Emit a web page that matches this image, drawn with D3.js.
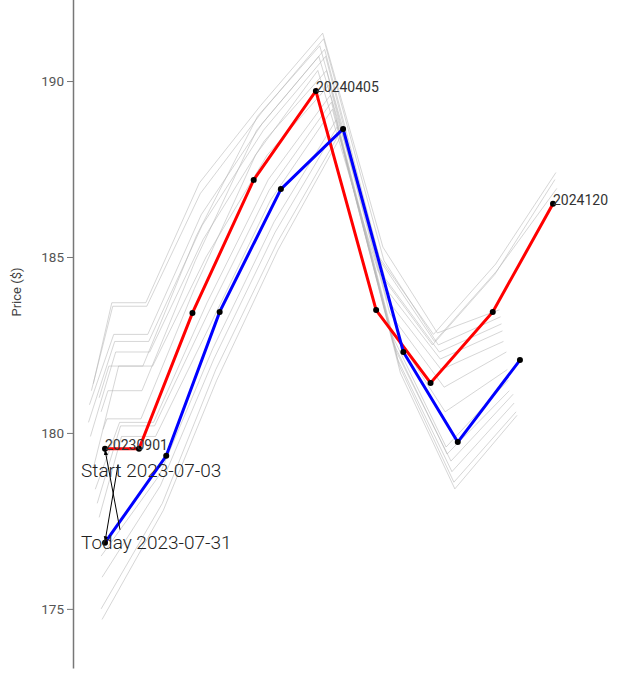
<!DOCTYPE html>
<html><head><meta charset="utf-8">
<script src="https://cdn.jsdelivr.net/npm/d3@7"></script>
<style>
html,body{margin:0;padding:0;background:#fff;}
svg{display:block;font-family:Roboto,"Open Sans",sans-serif;}
</style></head>
<body>
<script>
// contract offsets in days from 2023-09-01 (first contract)
const contractDays = [0, 35, 90, 153, 217, 279, 335, 399, 461];
const contractLabels = ["20230901", "", "", "", "20240405", "", "", "", "20241204"];
const yTicks = [175, 180, 185, 190];

// Start curve (2023-07-03)
const startLabel = "Start 2023-07-03";
const startShift = 0;
const startPrices = [179.55, 179.55, 183.41, 187.19, 189.72, 183.49, 181.42, 183.44, 186.51];

// Today curve (2023-07-31)
const todayLabel = "Today 2023-07-31";
const todayShift = 28;
const todaySpotDay = 0;
const todaySpot = 176.88;
const todayPrices = [null, 179.35, 183.44, 186.93, 188.64, 182.30, 179.74, 182.07, null];

// intermediate days: shift (days), spot day, spot price, contract prices
const histShift = [2, 3, 4, 7, 8, 9, 10, 11, 14, 15, 16, 17, 21, 22, 24, 25];
const histSpotDay = [-2, -4, -6, -12, -14, -16, -17, -15, -12, -10, -8, -6, -4, -3, -4, -3];
const histSpot = [180.1, 180.6, 181.0, 181.4, 181.2, 180.8, 180.3, 179.9, 179.0, 178.4, 178.0, 177.6, 176.5, 175.9, 175.0, 174.7];
const histPrices = [
  [180.4, 180.4, 184.1, 187.9, 190.3, 184.6, 182.5, 184.5, 187.2],
  [181.2, 181.2, 184.9, 188.6, 190.7, 185.0, 182.8, 184.8, 187.4],
  [181.9, 181.9, 185.6, 189.0, 191.0, 184.9, 182.6, 184.6, 186.95],
  [183.7, 183.7, 187.1, 189.3, 191.36, 185.28, 182.84, 183.5, null],
  [183.6, 183.6, 186.8, 189.1, 191.2, 184.9, 182.5, 183.3, null],
  [182.8, 182.8, 186.2, 188.8, 190.9, 184.4, 182.3, 183.1, null],
  [182.6, 182.6, 185.9, 188.6, 190.7, 184.1, 182.1, 182.9, null],
  [182.3, 182.3, 185.5, 188.3, 190.3, 183.8, 181.8, 182.6, null],
  [181.9, 181.9, 185.0, 187.9, 189.9, 183.4, 181.3, 182.3, null],
  [180.3, 180.3, 183.7, 187.2, 189.6, 183.0, 180.6, 181.8, null],
  [180.2, 180.2, 183.4, 186.9, 189.4, 182.8, 179.6, 181.5, null],
  [179.9, 179.9, 183.0, 186.6, 189.2, 182.6, 179.4, 181.2, null],
  [null, 178.8, 182.4, 186.0, 188.9, 182.3, 179.2, 181.1, null],
  [null, 178.5, 182.1, 185.7, 188.7, 182.1, 178.9, 180.85, null],
  [null, 178.0, 181.8, 185.4, 188.5, 181.9, 178.6, 180.6, null],
  [null, 177.8, 181.5, 185.2, 188.4, 181.7, 178.41, 180.5, null]
];

const W = 608, H = 677;
const margin = {left: 73, top: -84};
const innerH = 752;

const svg = d3.select("body").append("svg").attr("width", W).attr("height", H);

const x = d3.scaleLinear().domain([0, 461]).range([32, 480]);
const y = d3.scaleLinear().domain([173.32, 194.69]).range([innerH, 0]);

svg.append("text").attr("x", 340).attr("y", -4).attr("text-anchor", "middle")
  .attr("font-size", 16).attr("fill", "#333").text("Futures Term Structure (Today vs Start)");

const g = svg.append("g").attr("transform", `translate(${margin.left},${margin.top})`);

const yAxis = g.append("g").call(d3.axisLeft(y).tickValues(yTicks).tickSize(6).tickSizeOuter(0));
yAxis.select(".domain").attr("stroke", "#777").attr("stroke-width", 1.5);
yAxis.selectAll(".tick line").attr("stroke", "#777");
yAxis.selectAll(".tick text").attr("font-size", 13.5).attr("fill", "#555")
  .attr("font-family", "Roboto, sans-serif");

svg.append("text").attr("transform", "translate(21,292) rotate(-90)")
  .attr("text-anchor", "middle").attr("font-size", 13).attr("fill", "#444").text("Price ($)");

const line = d3.line().defined(d => d[1] != null).x(d => x(d[0])).y(d => y(d[1]));

function curvePoints(shift, prices) {
  return contractDays.map((d, i) => [d + shift, prices[i]]).filter(p => p[1] != null);
}

// history curves
histShift.forEach((s, k) => {
  const pts = [[histSpotDay[k], histSpot[k]]].concat(curvePoints(s, histPrices[k]));
  g.append("path").datum(pts).attr("d", line).attr("fill", "none")
    .attr("stroke", "#b5b5b5").attr("stroke-opacity", 0.55).attr("stroke-width", 1);
});

// start curve
const startPts = curvePoints(startShift, startPrices);
g.append("path").datum(startPts).attr("d", line).attr("fill", "none")
  .attr("stroke", "#ff0000").attr("stroke-width", 3);

// today curve
const todayPts = [[todaySpotDay, todaySpot]].concat(curvePoints(todayShift, todayPrices));
g.append("path").datum(todayPts).attr("d", line).attr("fill", "none")
  .attr("stroke", "#0000ff").attr("stroke-width", 3);

g.selectAll("circle.s").data(startPts).join("circle").attr("class", "s")
  .attr("cx", d => x(d[0])).attr("cy", d => y(d[1])).attr("r", 3).attr("fill", "#000");
g.selectAll("circle.t").data(todayPts).join("circle").attr("class", "t")
  .attr("cx", d => x(d[0])).attr("cy", d => y(d[1])).attr("r", 3).attr("fill", "#000");

// contract labels
contractDays.forEach((d, i) => {
  if (!contractLabels[i]) return;
  g.append("text").attr("x", x(d + startShift)).attr("y", y(startPrices[i]) + 1)
    .attr("font-size", 14).attr("fill", "#333").text(contractLabels[i]);
});

// annotations
const defs = svg.append("defs");
defs.append("marker").attr("id", "arr").attr("viewBox", "0 0 10 10").attr("refX", 9).attr("refY", 5)
  .attr("markerWidth", 6).attr("markerHeight", 6).attr("orient", "auto")
  .append("path").attr("d", "M0,1.5L10,5L0,8.5Z").attr("fill", "#000");

const sx = x(startPts[0][0]), sy = y(startPts[0][1]);
const tx = x(todayPts[0][0]), ty = y(todayPts[0][1]);
g.append("line").attr("x1", sx + 15).attr("y1", ty - 13).attr("x2", sx).attr("y2", sy + 1)
  .attr("stroke", "#000").attr("stroke-width", 1).attr("marker-end", "url(#arr)");
g.append("line").attr("x1", tx + 13).attr("y1", sy + 16).attr("x2", tx).attr("y2", ty - 1)
  .attr("stroke", "#000").attr("stroke-width", 1).attr("marker-end", "url(#arr)");

g.append("text").attr("x", sx - 24).attr("y", sy + 28).attr("font-size", 19).attr("font-weight", 300)
  .attr("fill", "#222").text(startLabel);
g.append("text").attr("x", tx - 24).attr("y", ty + 6).attr("font-size", 19).attr("font-weight", 300)
  .attr("fill", "#222").text(todayLabel);
</script>
</body></html>
